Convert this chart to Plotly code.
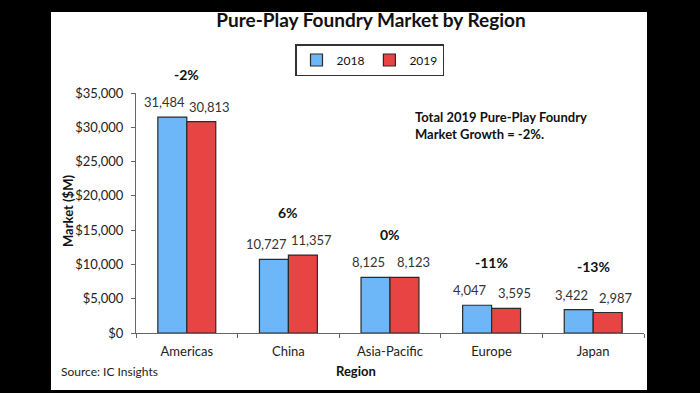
import plotly.graph_objects as go

regions = ["Americas", "China", "Asia-Pacific", "Europe", "Japan"]
sales_2018 = [31484, 10727, 8125, 4047, 3422]
sales_2019 = [30813, 11357, 8123, 3595, 2987]
growth_labels = ["-2%", "6%", "0%", "-11%", "-13%"]
series_names = ["2018", "2019"]
y_ticks = [0, 5000, 10000, 15000, 20000, 25000, 30000, 35000]
y_tick_text = [f"${v:,}" for v in y_ticks]

W, H = 700, 393
L, R, T, B = 136, 56, 93, 60
pw, ph = W - L - R, H - T - B

def px_x(x):
    return (x - L) / pw

def px_y(y):
    return (H - B - y) / ph

FONT = "Lato, Carlito, Calibri, sans-serif"
BLUE = "#6DB6F8"
RED = "#E84444"
OUT = "#2a2a2a"

fig = go.Figure()
fig.add_trace(go.Bar(x=regions, y=sales_2018, name=series_names[0],
                     marker=dict(color=BLUE, line=dict(color=OUT, width=1.2))))
fig.add_trace(go.Bar(x=regions, y=sales_2019, name=series_names[1],
                     marker=dict(color=RED, line=dict(color=OUT, width=1.2))))

annotations = []
# data labels
for r, v1, v2 in zip(regions, sales_2018, sales_2019):
    annotations.append(dict(x=r, y=v1, xref="x", yref="y", text=f"{v1:,}", showarrow=False,
                            xshift=-22, yshift=15, yanchor="middle",
                            font=dict(family=FONT, size=13, color="#333")))
    annotations.append(dict(x=r, y=v2, xref="x", yref="y", text=f"{v2:,}", showarrow=False,
                            xshift=23, yshift=15, yanchor="middle",
                            font=dict(family=FONT, size=13, color="#333")))
# growth labels
for r, v1, v2, g in zip(regions, sales_2018, sales_2019, growth_labels):
    annotations.append(dict(x=r, y=max(v1, v2), xref="x", yref="y", text=f"<b>{g}</b>",
                            showarrow=False, yshift=43, yanchor="middle",
                            font=dict(family=FONT, size=14, color="#111")))

annotations += [
    dict(x=px_x(413), y=px_y(126), xref="paper", yref="paper", xanchor="left", yanchor="middle",
         align="left", showarrow=False,
         text="<b>Total 2019 Pure-Play Foundry<br>Market Growth = -2%.</b>",
         font=dict(family=FONT, size=13, color="#111")),
    dict(x=px_x(58), y=px_y(211), xref="paper", yref="paper", textangle=-90, showarrow=False,
         text="<b>Market ($M)</b>", font=dict(family=FONT, size=13, color="#111")),
    dict(x=px_x(356), y=px_y(381), xref="paper", yref="paper", showarrow=False,
         text="<b>Region</b>", font=dict(family=FONT, size=13, color="#111")),
    dict(x=px_x(59), y=px_y(381), xref="paper", yref="paper", xanchor="left", showarrow=False,
         text="Source: IC Insights", font=dict(family=FONT, size=12, color="#222")),
]

fig.update_layout(
    width=W, height=H,
    margin=dict(l=L, r=R, t=T, b=B),
    paper_bgcolor="black",
    plot_bgcolor="white",
    barmode="group",
    bargap=0.43,
    bargroupgap=0,
    showlegend=True,
    title=dict(text="<b>Pure-Play Foundry Market by Region</b>", x=px_x(371), xref="paper",
               xanchor="center", y=1 - 20 / H, yanchor="middle",
               font=dict(family=FONT, size=19, color="#111")),
    legend=dict(orientation="h", x=px_x(295), y=px_y(44), xanchor="left", yanchor="top",
                bordercolor="#333", borderwidth=1.5, bgcolor="white",
                font=dict(family=FONT, size=12, color="#111"),
                itemwidth=30, tracegroupgap=0),
    annotations=annotations,
    shapes=[dict(type="rect", xref="paper", yref="paper",
                 x0=px_x(51), x1=px_x(647), y0=px_y(390), y1=px_y(12),
                 fillcolor="white", line=dict(width=0), layer="below")],
    xaxis=dict(showline=True, linecolor="#666", linewidth=1, ticks="outside", ticklen=4,
               tickcolor="#666", tickson="boundaries", showgrid=False, ticklabelstandoff=6,
               tickfont=dict(family=FONT, size=13, color="#222")),
    yaxis=dict(range=[0, 35000], tickmode="array", tickvals=y_ticks, ticktext=y_tick_text,
               showline=True, linecolor="#666", linewidth=1, ticks="outside", ticklen=4,
               tickcolor="#666", showgrid=False, zeroline=False, ticklabelstandoff=5,
               tickfont=dict(family=FONT, size=13, color="#222")),
)

fig.write_html("out.html", config={"displayModeBar": False},
               post_script="document.body.style.margin='0';document.body.style.background='black';")
